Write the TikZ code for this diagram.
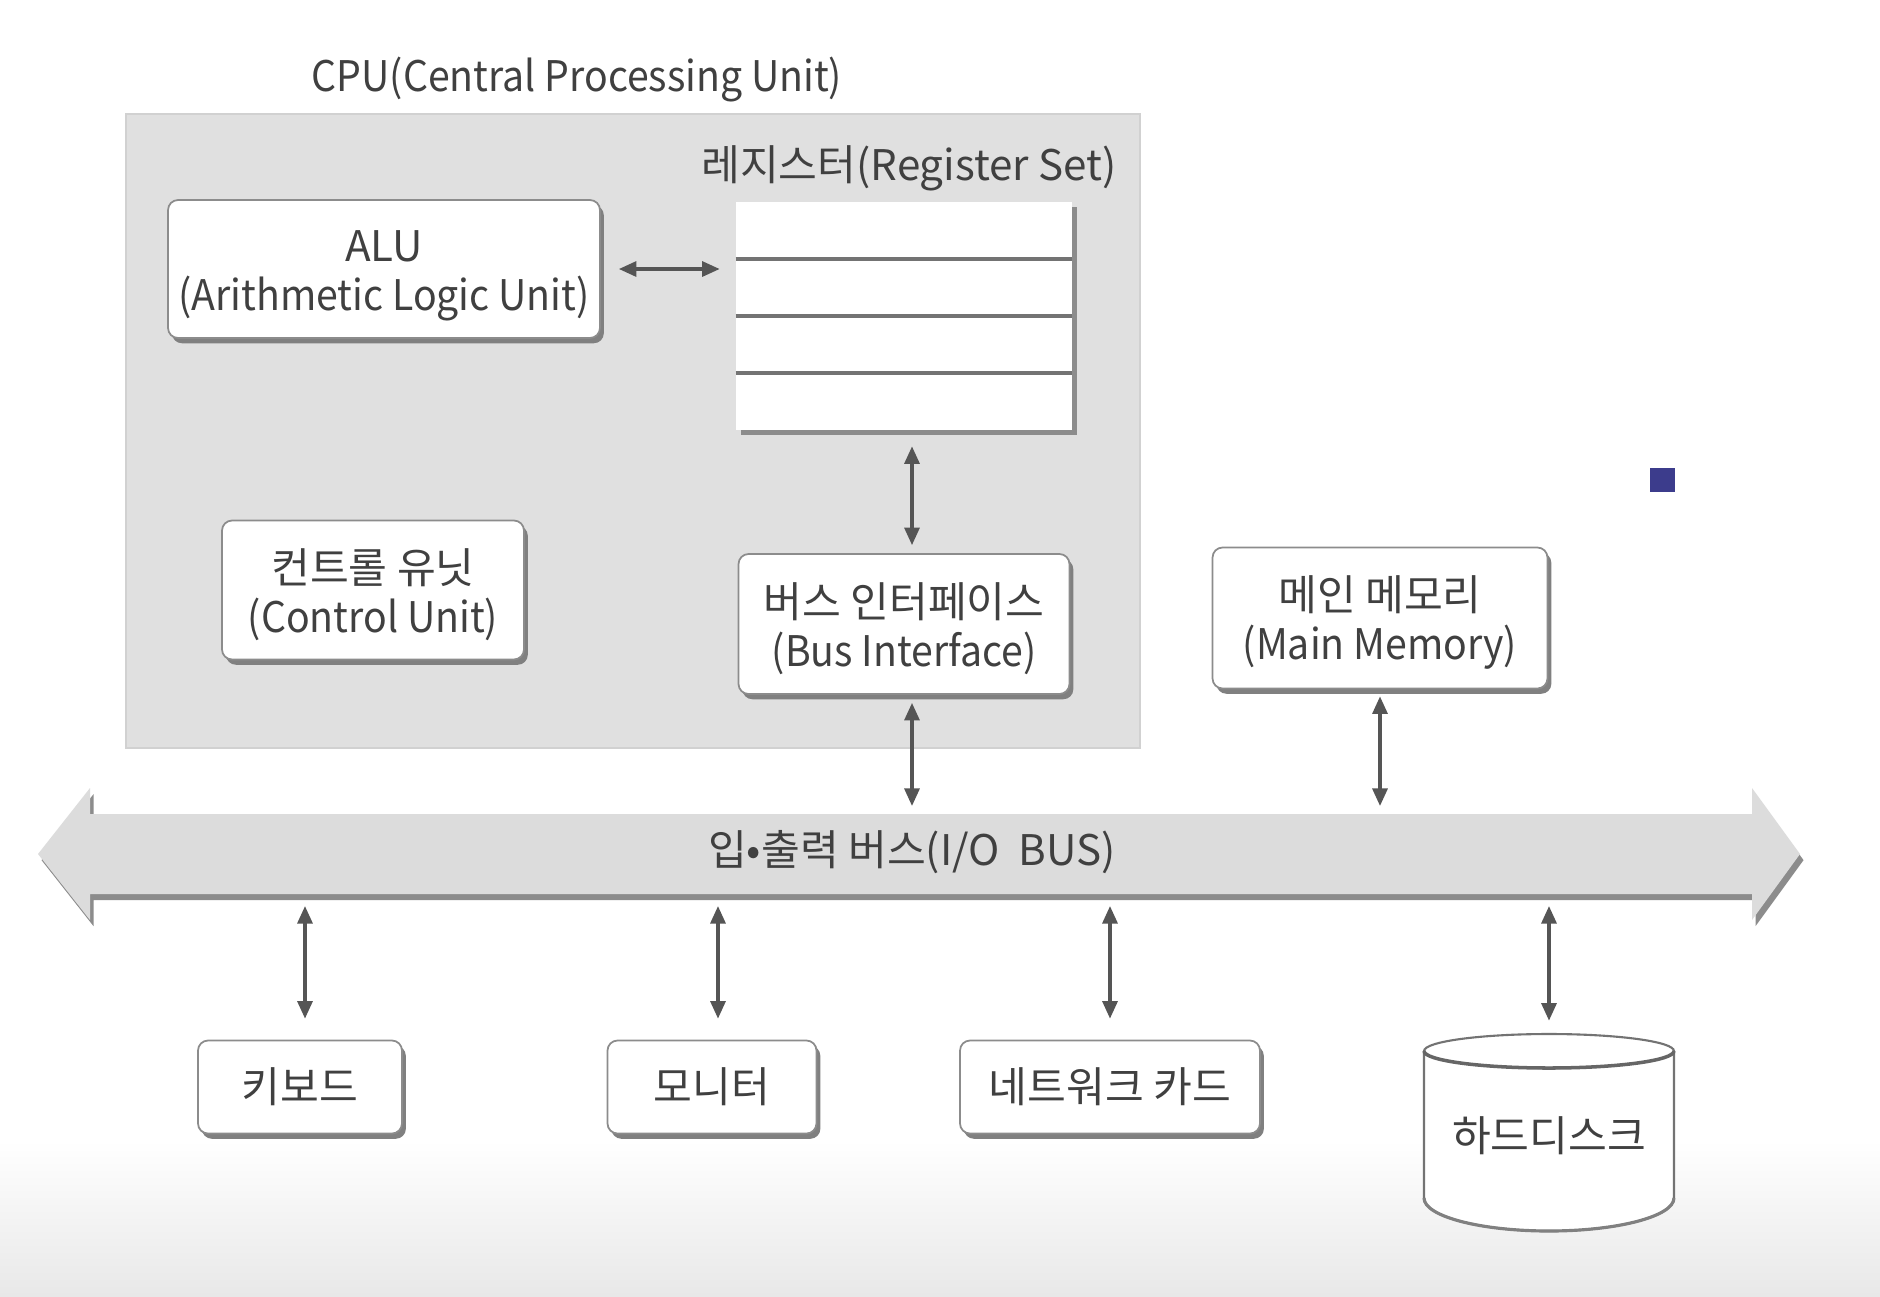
\documentclass[tikz,border=0pt]{standalone}
\usepackage{fontspec}
\setmainfont{Noto Sans CJK KR}
\newfontfamily\narrowf{Noto Sans CJK KR}[FakeStretch=0.93]
\usetikzlibrary{arrows.meta,shadows,calc}
\definecolor{txt}{HTML}{404040}
\definecolor{cpufill}{HTML}{E0E0E0}
\definecolor{busfill}{HTML}{DCDCDC}
\definecolor{arr}{HTML}{555555}
\definecolor{navy}{HTML}{3C3C8C}
\newcommand\fs{\fontsize{24pt}{28pt}\selectfont}
\newcommand\en[1]{{\narrowf #1}}
\newcommand\dn{\rule{0pt}{25pt}}
\tikzset{
  lbl/.style={text=txt, font=\fs, inner sep=0pt},
  box/.style={lbl, draw=black!45, line width=1pt, fill=white, rounded corners=0.2cm, align=center,
    general shadow={fill=black!50, shadow xshift=2.2pt, shadow yshift=-3pt}},
  conn/.style={{Triangle[length=10pt,width=8.5pt]}-{Triangle[length=10pt,width=8.5pt]}, line width=1.9pt, draw=arr},
}
\begin{document}
\begin{tikzpicture}[x=0.02cm,y=-0.02cm]
\useasboundingbox (0,0) rectangle (1880,1296);
\fill[white] (0,0) rectangle (1880,1296);
\shade[top color=white, bottom color=black!9] (0,1140) rectangle (1880,1296);

% CPU container
\node[draw=black!18, line width=1pt, fill=cpufill, minimum width=20.28cm, minimum height=12.68cm, inner sep=0pt] (cpu) at (633,431) {};
\node[lbl] (cputitle) at (577,80) {\en{CPU(Central Processing Unit)}};
\node[lbl] (reglabel) at (909,168) {레지스터(Register Set)};

% register set
\node[fill=white, minimum width=6.72cm, minimum height=4.56cm, inner sep=0pt,
  general shadow={fill=black!45, shadow xshift=3pt, shadow yshift=-3pt}] (reg) at (904,316) {};
\foreach \i in {1,2,3}
  \draw[black!55, line width=2pt] ($(reg.north west)!\i/4!(reg.south west)$) -- ($(reg.north east)!\i/4!(reg.south east)$);

% boxes
\node[box, minimum width=8.64cm, minimum height=2.76cm] (alu) at (384,269) {\dn ALU\\\en{(Arithmetic Logic Unit)}};
\node[box, minimum width=6.04cm, minimum height=2.78cm] (cu) at (373,590) {\dn 컨트롤 유닛\\\en{(Control Unit)}};
\node[box, minimum width=6.62cm, minimum height=2.8cm] (bi) at (904,624) {\dn 버스 인터페이스\\\en{(Bus Interface)}};
\node[box, minimum width=6.7cm, minimum height=2.82cm] (mm) at (1380,618) {\dn 메인 메모리\\\en{(Main Memory)}};
\node[box, minimum width=4.08cm, minimum height=1.86cm] (kb) at (300,1087) {키보드};
\node[box, minimum width=4.18cm, minimum height=1.86cm] (mon) at (712,1087) {모니터};
\node[box, minimum width=6cm, minimum height=1.86cm] (net) at (1110,1087) {네트워크 카드};

% hard disk cylinder
\draw[fill=white, draw=black!55, line width=1.2pt] (1424,1051) -- (1424,1198)
  arc[start angle=180, end angle=360, x radius=2.5cm, y radius=0.66cm] -- (1674,1051);
\draw[fill=white, draw=black!55, line width=1.2pt] (1549,1051) ellipse [x radius=2.5cm, y radius=0.34cm];
\draw[black!60, line width=2pt] (1424,1051) arc[start angle=180, end angle=360, x radius=2.5cm, y radius=0.34cm];
\draw[black!50, line width=1.8pt] (1424,1198) arc[start angle=180, end angle=360, x radius=2.5cm, y radius=0.66cm];
\node[lbl, minimum width=5cm, minimum height=3.96cm] (hdd) at (1549,1136) {하드디스크};

% I/O bus
\fill[black!45, xshift=2pt, yshift=-3.5pt] (38,854) -- (90,788) -- (90,814) -- (1752,814) -- (1752,788) -- (1800,854)
  -- (1752,920) -- (1752,894) -- (90,894) -- (90,920) -- cycle;
\fill[busfill] (38,854) -- (90,788) -- (90,814) -- (1752,814) -- (1752,788) -- (1800,854)
  -- (1752,920) -- (1752,894) -- (90,894) -- (90,920) -- cycle;
\coordinate (bustop) at (912,814);
\coordinate (busbot) at (912,894);
\node[lbl] (buslbl) at (912,852) {입•출력 버스(I/O~~BUS)};

% stray marker
\fill[navy] (1650,468) rectangle (1675,492);

% connectors
\draw[conn, shorten <=0.36cm, shorten >=0.32cm] (alu.east) -- (alu.east -| reg.west);
\draw[conn, shorten <=0.32cm, shorten >=0.16cm] ([xshift=0.16cm]reg.south) -- ([xshift=0.16cm]bi.north);
\draw[conn, shorten <=0.16cm, shorten >=0.16cm] ([xshift=0.16cm]bi.south) -- ([xshift=0.16cm]bi.south |- bustop);
\draw[conn, shorten <=0.14cm, shorten >=0.16cm] (mm.south) -- (mm.south |- bustop);
\foreach \n/\dx in {kb/0.1cm, mon/0.12cm, net/0cm}
  \draw[conn, shorten <=0.24cm, shorten >=0.42cm] ([xshift=\dx]\n.north |- busbot) -- ([xshift=\dx]\n.north);
\draw[conn, shorten <=0.24cm, shorten >=0.32cm] (hdd.north |- busbot) -- (hdd.north);
\end{tikzpicture}
\end{document}
